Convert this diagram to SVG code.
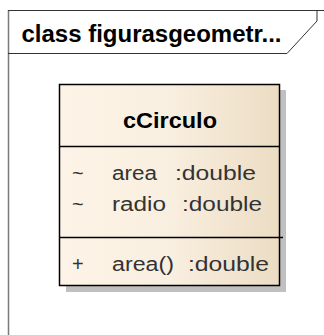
<svg xmlns="http://www.w3.org/2000/svg" width="324" height="335" viewBox="0 0 324 335">
<defs>
<linearGradient id="g" x1="0" y1="0" x2="1" y2="0">
<stop offset="0" stop-color="#fdf4e7"/>
<stop offset="0.5" stop-color="#f9efe0"/>
<stop offset="1" stop-color="#ecdcc3"/>
</linearGradient>
<style>
.t{font-family:"Liberation Sans",Arial,sans-serif;}
.b{font-weight:bold;fill:#000;}
.m{font-size:20px;fill:#333;}
</style>
</defs>
<g id="frame">
<line x1="8.5" y1="10" x2="8.5" y2="335" stroke="#7a7a7a" stroke-width="1.5"/>
<line x1="8" y1="10.5" x2="324" y2="10.5" stroke="#333" stroke-width="1"/>
<polyline points="8,53.5 287,53.5 317,21 317,10" fill="none" stroke="#333" stroke-width="1"/>
<text class="t b" x="21.5" y="42" font-size="23" textLength="260" lengthAdjust="spacingAndGlyphs">class figurasgeometr...</text>
</g>
<g id="cCirculo">
<rect x="66" y="90" width="220" height="202" fill="#c0c0c0"/>
<rect x="59.5" y="84.5" width="220" height="201" fill="url(#g)" stroke="#000" stroke-width="1.5"/>
<line x1="59.5" y1="146.5" x2="279.5" y2="146.5" stroke="#000" stroke-width="1.5"/>
<line x1="59.5" y1="237.5" x2="283" y2="237.5" stroke="#000" stroke-width="1.5"/>
<text class="t b" x="123" y="128" font-size="22" textLength="94" lengthAdjust="spacingAndGlyphs">cCirculo</text>
<text class="t m" x="72" y="180">~</text>
<text class="t m" x="112" y="180" textLength="45" lengthAdjust="spacingAndGlyphs">area</text>
<text class="t m" x="175" y="180" textLength="81" lengthAdjust="spacingAndGlyphs">:double</text>
<text class="t m" x="72" y="211">~</text>
<text class="t m" x="112" y="211" textLength="54" lengthAdjust="spacingAndGlyphs">radio</text>
<text class="t m" x="182" y="211" textLength="80" lengthAdjust="spacingAndGlyphs">:double</text>
<text class="t m" x="72" y="271">+</text>
<text class="t m" x="112" y="271" textLength="62" lengthAdjust="spacingAndGlyphs">area()</text>
<text class="t m" x="188" y="271" textLength="81" lengthAdjust="spacingAndGlyphs">:double</text>
</g>
</svg>
